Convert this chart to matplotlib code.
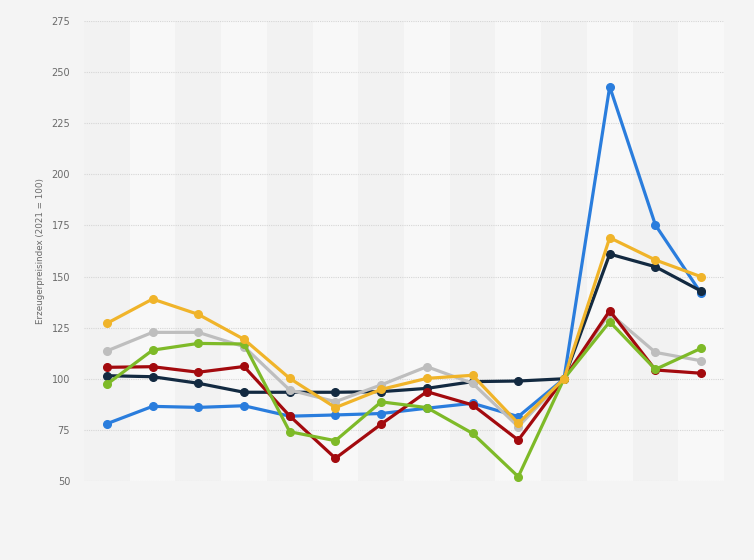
import numpy as np
import matplotlib
matplotlib.use("Agg")
import matplotlib.pyplot as plt

# --- DATA (Erzeugerpreisindex, 2021 = 100) ---
years = list(range(2011, 2025))
blue = [78.0, 86.5, 86.0, 86.8, 81.7, 82.3, 83.0, 85.6, 88.0, 81.5, 100.0, 242.9, 175.2, 141.8]
navy = [101.5, 101.0, 97.8, 93.4, 93.4, 93.4, 93.7, 95.3, 98.6, 98.9, 100.0, 161.0, 154.8, 142.9]
gray = [113.6, 122.7, 122.7, 115.7, 94.5, 88.8, 97.0, 105.9, 97.8, 76.6, 100.0, 132.0, 112.9, 108.8]
red = [105.6, 105.9, 103.2, 106.0, 81.8, 61.1, 77.8, 93.7, 87.2, 70.0, 100.0, 133.3, 104.3, 102.7]
green = [97.3, 114.0, 117.3, 117.0, 74.1, 69.7, 88.7, 85.9, 73.3, 52.1, 100.0, 127.9, 104.6, 114.9]
yellow = [127.1, 139.0, 131.5, 119.3, 100.2, 85.9, 94.8, 100.2, 101.7, 78.2, 100.0, 169.0, 158.1, 149.9]

series = [
    (blue, "#2a7ddd"),
    (navy, "#132a41"),
    (gray, "#bebebe"),
    (red, "#a30a0e"),
    (green, "#7eba28"),
    (yellow, "#f0b42a"),
]

# --- PLOT ---
fig = plt.figure(figsize=(7.54, 5.6), dpi=100, facecolor="#f4f4f4")
ax = fig.add_axes([0.1114, 0.1411, 0.8488, 0.8214])
ax.set_facecolor("#f2f2f2")

x = np.arange(len(years))
# alternating column stripes
for i in x:
    if i % 2 == 1:
        ax.axvspan(i - 0.5, i + 0.5, color="#f8f8f8", lw=0, zorder=0)

for vals, col in series:
    ax.plot(x, vals, color=col, lw=2.3, marker="o", markersize=5.5,
            solid_capstyle="round", solid_joinstyle="round", zorder=3)

ax.set_xlim(-0.5, len(years) - 0.5)
ax.set_ylim(50, 275)
ax.set_yticks(np.arange(50, 276, 25))
ax.set_xticks([])
ax.yaxis.grid(True, color="#d6d6d6", linestyle=(0, (1, 1)), lw=0.8, zorder=1)
ax.set_axisbelow(True)
for s in ax.spines.values():
    s.set_visible(False)
ax.tick_params(axis="y", length=0, pad=10, labelsize=7, labelcolor="#6a6a6a")
ax.set_ylabel("Erzeugerpreisindex (2021 = 100)", fontsize=6.3, color="#6a6a6a", labelpad=4.5)

fig.savefig("out.png", dpi=100, facecolor=fig.get_facecolor())
